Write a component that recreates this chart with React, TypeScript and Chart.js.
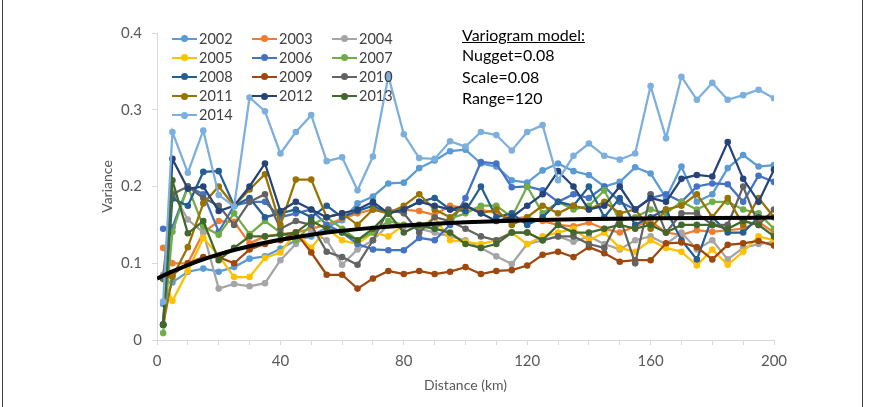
import React, { useEffect, useRef } from "react";
import { Chart, registerables } from "chart.js";

Chart.register(...registerables);

const distances = [2, 5, 10, 15, 20, 25, 30, 35, 40, 45, 50, 55, 60, 65, 70, 75, 80, 85, 90, 95, 100, 105, 110, 115, 120, 125, 130, 135, 140, 145, 150, 155, 160, 165, 170, 175, 180, 185, 190, 195, 200];

const years = ["2002", "2003", "2004", "2005", "2006", "2007", "2008", "2009", "2010", "2011", "2012", "2013", "2014"];
const colors = ["#5B9BD5", "#ED7D31", "#A5A5A5", "#FFC000", "#4472C4", "#70AD47", "#255E91", "#9E480E", "#636363", "#997300", "#264478", "#43682B", "#7CAFDD"];

const v2002 = [0.047, 0.075, 0.089, 0.093, 0.089, 0.095, 0.106, 0.109, 0.119, 0.130, 0.135, 0.147, 0.156, 0.178, 0.187, 0.204, 0.205, 0.224, 0.234, 0.246, 0.248, 0.230, 0.226, 0.208, 0.205, 0.221, 0.230, 0.220, 0.215, 0.200, 0.206, 0.225, 0.217, 0.185, 0.226, 0.180, 0.190, 0.224, 0.241, 0.226, 0.228];
const v2003 = [0.120, 0.100, 0.100, 0.140, 0.155, 0.154, 0.126, 0.135, 0.138, 0.140, 0.145, 0.150, 0.158, 0.165, 0.170, 0.165, 0.170, 0.168, 0.163, 0.175, 0.172, 0.170, 0.165, 0.158, 0.160, 0.155, 0.150, 0.148, 0.153, 0.145, 0.140, 0.148, 0.155, 0.140, 0.137, 0.143, 0.141, 0.143, 0.145, 0.154, 0.140];
const v2004 = [0.085, 0.193, 0.157, 0.140, 0.067, 0.073, 0.070, 0.074, 0.104, 0.125, 0.140, 0.130, 0.098, 0.118, 0.130, 0.150, 0.148, 0.145, 0.140, 0.135, 0.130, 0.120, 0.109, 0.099, 0.125, 0.130, 0.135, 0.128, 0.135, 0.125, 0.118, 0.130, 0.135, 0.125, 0.140, 0.118, 0.130, 0.105, 0.120, 0.125, 0.128];
const v2005 = [0.079, 0.051, 0.090, 0.133, 0.110, 0.082, 0.082, 0.107, 0.114, 0.140, 0.120, 0.145, 0.130, 0.125, 0.140, 0.135, 0.150, 0.145, 0.160, 0.130, 0.128, 0.125, 0.130, 0.140, 0.125, 0.135, 0.140, 0.145, 0.130, 0.140, 0.120, 0.115, 0.130, 0.120, 0.115, 0.097, 0.118, 0.098, 0.115, 0.135, 0.130];
const v2006 = [0.145, 0.147, 0.200, 0.190, 0.141, 0.175, 0.180, 0.180, 0.160, 0.165, 0.170, 0.150, 0.140, 0.125, 0.118, 0.117, 0.117, 0.133, 0.130, 0.150, 0.185, 0.232, 0.230, 0.199, 0.200, 0.195, 0.180, 0.190, 0.185, 0.200, 0.180, 0.170, 0.185, 0.190, 0.180, 0.200, 0.204, 0.203, 0.180, 0.214, 0.206];
const v2007 = [0.009, 0.141, 0.200, 0.148, 0.137, 0.165, 0.138, 0.155, 0.140, 0.130, 0.150, 0.160, 0.145, 0.130, 0.140, 0.155, 0.150, 0.148, 0.145, 0.158, 0.165, 0.175, 0.175, 0.160, 0.200, 0.165, 0.180, 0.170, 0.175, 0.195, 0.155, 0.160, 0.170, 0.165, 0.180, 0.170, 0.180, 0.180, 0.170, 0.165, 0.145];
const v2008 = [0.020, 0.184, 0.175, 0.219, 0.220, 0.175, 0.185, 0.160, 0.165, 0.170, 0.160, 0.175, 0.160, 0.168, 0.175, 0.165, 0.170, 0.180, 0.185, 0.170, 0.168, 0.200, 0.160, 0.165, 0.150, 0.160, 0.180, 0.175, 0.200, 0.160, 0.185, 0.150, 0.160, 0.170, 0.130, 0.105, 0.160, 0.140, 0.140, 0.160, 0.160];
const v2009 = [0.080, 0.085, 0.100, 0.108, 0.108, 0.100, 0.118, 0.125, 0.130, 0.140, 0.114, 0.085, 0.085, 0.067, 0.080, 0.090, 0.086, 0.090, 0.086, 0.089, 0.095, 0.086, 0.090, 0.091, 0.097, 0.111, 0.115, 0.108, 0.121, 0.113, 0.102, 0.104, 0.104, 0.126, 0.127, 0.121, 0.105, 0.124, 0.126, 0.129, 0.123];
const v2010 = [0.080, 0.190, 0.200, 0.185, 0.175, 0.150, 0.180, 0.190, 0.145, 0.155, 0.150, 0.115, 0.108, 0.098, 0.130, 0.170, 0.165, 0.140, 0.160, 0.155, 0.145, 0.135, 0.130, 0.140, 0.140, 0.130, 0.135, 0.135, 0.125, 0.120, 0.160, 0.100, 0.190, 0.140, 0.165, 0.165, 0.150, 0.150, 0.200, 0.150, 0.170];
const v2011 = [0.020, 0.082, 0.121, 0.178, 0.200, 0.175, 0.196, 0.216, 0.150, 0.209, 0.209, 0.160, 0.165, 0.150, 0.170, 0.165, 0.175, 0.190, 0.170, 0.160, 0.175, 0.165, 0.170, 0.150, 0.160, 0.175, 0.165, 0.175, 0.170, 0.180, 0.165, 0.170, 0.145, 0.170, 0.175, 0.190, 0.160, 0.185, 0.150, 0.185, 0.160];
const v2012 = [0.020, 0.236, 0.197, 0.200, 0.168, 0.175, 0.200, 0.230, 0.168, 0.180, 0.170, 0.160, 0.165, 0.170, 0.180, 0.165, 0.170, 0.180, 0.175, 0.170, 0.175, 0.165, 0.155, 0.160, 0.175, 0.190, 0.220, 0.200, 0.170, 0.175, 0.200, 0.170, 0.185, 0.180, 0.210, 0.215, 0.213, 0.258, 0.210, 0.180, 0.222];
const v2013 = [0.020, 0.208, 0.139, 0.155, 0.104, 0.120, 0.135, 0.135, 0.137, 0.140, 0.155, 0.145, 0.140, 0.130, 0.145, 0.165, 0.140, 0.150, 0.145, 0.140, 0.125, 0.120, 0.125, 0.140, 0.140, 0.130, 0.150, 0.140, 0.140, 0.145, 0.150, 0.145, 0.150, 0.140, 0.150, 0.150, 0.150, 0.145, 0.155, 0.150, 0.135];
const v2014 = [0.050, 0.271, 0.218, 0.273, 0.189, 0.174, 0.316, 0.298, 0.243, 0.271, 0.293, 0.233, 0.238, 0.195, 0.239, 0.344, 0.268, 0.237, 0.236, 0.259, 0.252, 0.271, 0.267, 0.247, 0.271, 0.280, 0.208, 0.240, 0.256, 0.240, 0.235, 0.243, 0.331, 0.263, 0.343, 0.313, 0.335, 0.313, 0.319, 0.326, 0.315];

const seriesValues = [v2002, v2003, v2004, v2005, v2006, v2007, v2008, v2009, v2010, v2011, v2012, v2013, v2014];

// Exponential variogram model (Nugget 0.08, Scale 0.08, Range 120), read at these distances
const modelX = [0, 5, 10, 15, 20, 25, 30, 35, 40, 45, 50, 60, 70, 80, 90, 100, 120, 140, 160, 180, 200];
const modelY = [0.080, 0.0894, 0.0977, 0.1050, 0.1115, 0.1172, 0.1222, 0.1267, 0.1306, 0.1340, 0.1371, 0.1422, 0.1461, 0.1492, 0.1516, 0.1534, 0.1560, 0.1576, 0.1585, 0.1591, 0.1595];

const annotationLines = ["Variogram model:", "Nugget=0.08", "Scale=0.08", "Range=120"];

const FONT = "Lato, 'Open Sans', sans-serif";

export default function App() {
  const canvasRef = useRef<HTMLCanvasElement | null>(null);

  useEffect(() => {
    if (!canvasRef.current) return;
    const datasets: any[] = seriesValues.map((vals, i) => ({
      label: years[i],
      data: distances.map((x, j) => ({ x, y: vals[j] })),
      borderColor: colors[i],
      backgroundColor: colors[i],
      pointBackgroundColor: colors[i],
      pointBorderColor: colors[i],
      borderWidth: 2.25,
      pointRadius: 3.3,
      pointBorderWidth: 0,
      tension: 0,
      order: 13 - i + 1,
    }));
    datasets.push({
      label: "Model",
      data: modelX.map((x, j) => ({ x, y: modelY[j] })),
      borderColor: "#000000",
      backgroundColor: "#000000",
      borderWidth: 4,
      pointRadius: 0,
      cubicInterpolationMode: "monotone",
      order: 0,
    });

    const chart = new Chart(canvasRef.current, {
      type: "line",
      data: { datasets },
      options: {
        animation: false,
        responsive: true,
        maintainAspectRatio: false,
        layout: { padding: { left: 95, right: 98, top: 33, bottom: 9 } },
        plugins: {
          legend: { display: false },
          tooltip: { enabled: false },
        },
        scales: {
          x: {
            type: "linear",
            min: 0,
            max: 200,
            ticks: {
              stepSize: 10,
              autoSkip: false,
              maxRotation: 0,
              padding: 7,
              color: "#595959",
              font: { family: FONT, size: 15 },
              callback: (v: any) => (Number(v) % 40 === 0 ? String(v) : ""),
            },
            grid: { drawOnChartArea: false, drawTicks: true, tickLength: 5, color: "#D9D9D9" },
            border: { color: "#D9D9D9" },
            title: { display: true, text: "Distance (km)", color: "#595959", font: { family: FONT, size: 14 }, padding: 4 },
            afterFit: (s: any) => { s.height = 58; },
          },
          y: {
            type: "linear",
            min: 0,
            max: 0.4,
            ticks: {
              stepSize: 0.1,
              padding: 10,
              color: "#595959",
              font: { family: FONT, size: 15 },
              callback: (v: any) => String(Math.round(Number(v) * 10) / 10),
            },
            grid: { drawOnChartArea: false, drawTicks: true, tickLength: 5, color: "#D9D9D9" },
            border: { color: "#D9D9D9" },
            title: { display: true, text: "Variance", color: "#595959", font: { family: FONT, size: 14 }, padding: 4 },
            afterFit: (s: any) => { s.width = 62; },
          },
        },
      },
    });
    return () => chart.destroy();
  }, []);

  const legendCols = [172, 252, 332];
  return (
    <div style={{ position: "fixed", left: 0, top: 0, width: 872, height: 407, background: "#fff", overflow: "hidden" }}>
      <canvas ref={canvasRef} style={{ position: "absolute", left: 0, top: 0, width: 872, height: 407 }} />
      <div style={{ position: "absolute", left: 2, top: 0, width: 1, height: 407, background: "#404040" }} />
      <div style={{ position: "absolute", left: 862, top: 0, width: 1, height: 407, background: "#404040" }} />
      {years.map((y, i) => {
        const col = i % 3;
        const row = Math.floor(i / 3);
        const cx = legendCols[col];
        const cy = 38.5 + row * 19.2;
        return (
          <div key={y} style={{ position: "absolute", left: cx, top: cy - 10, height: 20, width: 80, pointerEvents: "none" }}>
            <div style={{ position: "absolute", left: 0, top: 9, width: 25, height: 2, background: colors[i] }} />
            <div style={{ position: "absolute", left: 9, top: 6.5, width: 7, height: 7, borderRadius: "50%", background: colors[i] }} />
            <span style={{ position: "absolute", left: 27, top: 0, lineHeight: "20px", fontFamily: FONT, fontSize: 14.5, color: "#404040", whiteSpace: "nowrap" }}>{y}</span>
          </div>
        );
      })}
      {annotationLines.map((t, i) => (
        <div key={t} style={{ position: "absolute", left: 462, top: [35, 55, 76.5, 98][i] - 10, lineHeight: "20px", fontFamily: FONT, fontSize: 16, color: "#000", whiteSpace: "nowrap", textDecoration: i === 0 ? "underline" : "none" }}>{t}</div>
      ))}
    </div>
  );
}
